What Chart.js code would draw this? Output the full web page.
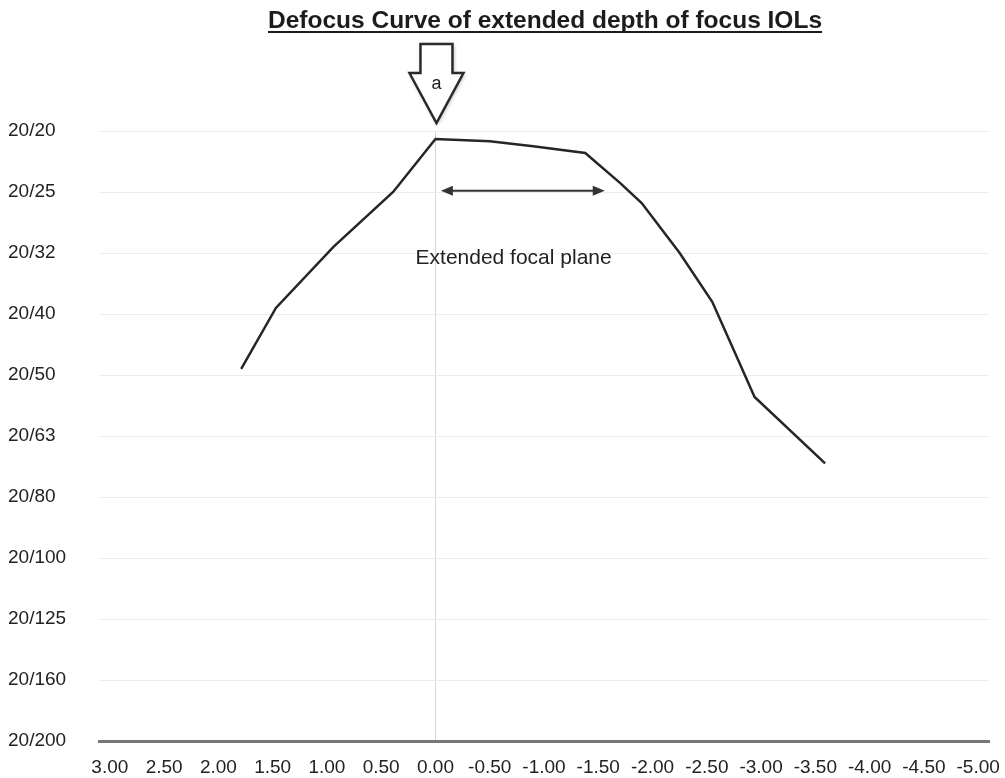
<!DOCTYPE html>
<html>
<head>
<meta charset="utf-8">
<script src="https://cdn.jsdelivr.net/npm/chart.js@4.4.1/dist/chart.umd.min.js"></script>
<style>
  html, body { margin: 0; padding: 0; background: #fff; }
  #wrap { width: 1005px; height: 778px; position: relative; }
</style>
</head>
<body>
<div id="wrap"><canvas id="defocusChart"></canvas></div>
<script>
// defocus (D) and visual acuity (logMAR)
const defocus = [1.79, 1.47, 0.94, 0.39, 0.00, -0.50, -0.90, -1.38, -1.70, -1.90, -2.25, -2.55, -2.75, -2.94, -3.59];
const logMAR = [0.39, 0.29, 0.19, 0.10, 0.013, 0.017, 0.025, 0.036, 0.085, 0.118, 0.20, 0.28, 0.36, 0.436, 0.545];

const acuityLabels = ['20/20', '20/25', '20/32', '20/40', '20/50', '20/63', '20/80', '20/100', '20/125', '20/160', '20/200'];
const defocusTicks = [3, 2.5, 2, 1.5, 1, 0.5, 0, -0.5, -1, -1.5, -2, -2.5, -3, -3.5, -4, -4.5, -5];

const titleText = 'Defocus Curve of extended depth of focus IOLs';
const FONT = '"Liberation Sans", Arial, Helvetica, sans-serif';

// title, "a" arrow and the extended focal plane marker
const annotations = {
    id: 'annotations',
    afterDraw(chart) {
        const { ctx, scales: { x, y } } = chart;
        ctx.save();

        // underlined title
        ctx.font = 'bold 24.5px ' + FONT;
        ctx.fillStyle = '#1c1c1c';
        ctx.textAlign = 'center';
        ctx.textBaseline = 'alphabetic';
        ctx.fillText(titleText, 545, 28);
        const tw = ctx.measureText(titleText).width;
        ctx.fillRect(545 - tw / 2, 31, tw, 2);

        // hollow down arrow pointing at 0.00 D
        const ax = x.getPixelForValue(0) + 1;
        ctx.beginPath();
        ctx.moveTo(ax - 16, 44);
        ctx.lineTo(ax + 16, 44);
        ctx.lineTo(ax + 16, 73);
        ctx.lineTo(ax + 27, 73);
        ctx.lineTo(ax, 123);
        ctx.lineTo(ax - 27, 73);
        ctx.lineTo(ax - 16, 73);
        ctx.closePath();
        ctx.shadowColor = 'rgba(0,0,0,0.35)';
        ctx.shadowBlur = 4;
        ctx.shadowOffsetX = 1;
        ctx.shadowOffsetY = 1;
        ctx.fillStyle = '#fff';
        ctx.fill();
        ctx.shadowColor = 'transparent';
        ctx.lineWidth = 2.5;
        ctx.lineJoin = 'miter';
        ctx.strokeStyle = '#2a2a2a';
        ctx.stroke();
        ctx.font = '18px ' + FONT;
        ctx.fillStyle = '#222';
        ctx.textBaseline = 'middle';
        ctx.fillText('a', ax, 84);

        // double-headed arrow
        const x1 = x.getPixelForValue(-0.05);
        const x2 = x.getPixelForValue(-1.56);
        const yy = y.getPixelForValue(0.098);
        ctx.strokeStyle = '#333';
        ctx.fillStyle = '#333';
        ctx.lineWidth = 2;
        ctx.beginPath();
        ctx.moveTo(x1 + 8, yy);
        ctx.lineTo(x2 - 8, yy);
        ctx.stroke();
        ctx.beginPath();
        ctx.moveTo(x1, yy);
        ctx.lineTo(x1 + 12, yy - 5);
        ctx.lineTo(x1 + 12, yy + 5);
        ctx.closePath();
        ctx.fill();
        ctx.beginPath();
        ctx.moveTo(x2, yy);
        ctx.lineTo(x2 - 12, yy - 5);
        ctx.lineTo(x2 - 12, yy + 5);
        ctx.closePath();
        ctx.fill();

        ctx.font = '21px ' + FONT;
        ctx.fillStyle = '#222';
        ctx.textAlign = 'center';
        ctx.textBaseline = 'middle';
        ctx.fillText('Extended focal plane', x.getPixelForValue(-0.72), y.getPixelForValue(0.208));

        ctx.restore();
    }
};

const ctx = document.getElementById('defocusChart').getContext('2d');

window.defocusChart = new Chart(ctx, {
    type: 'line',
    data: {
        datasets: [{
            data: defocus.map((d, i) => ({ x: d, y: logMAR[i] })),
            borderColor: '#262626',
            borderWidth: 2.5,
            pointRadius: 0,
            tension: 0,
            fill: false
        }]
    },
    options: {
        responsive: true,
        maintainAspectRatio: false,
        animation: false,
        layout: {
            padding: { left: 8, right: 16, top: 131, bottom: 0 }
        },
        plugins: {
            legend: { display: false },
            title: { display: false },
            tooltip: { enabled: false }
        },
        scales: {
            x: {
                type: 'linear',
                reverse: true,
                min: -5.1,
                max: 3.1,
                afterBuildTicks: scale => {
                    scale.ticks = defocusTicks.map(v => ({ value: v }));
                },
                afterFit: scale => {
                    scale.height = 37;
                    scale.paddingLeft = 0;
                    scale.paddingRight = 0;
                },
                ticks: {
                    autoSkip: false,
                    maxRotation: 0,
                    padding: 15,
                    color: '#222',
                    font: { family: FONT, size: 19 },
                    callback: value => value.toFixed(2)
                },
                grid: {
                    drawTicks: false,
                    color: c => (c.tick && c.tick.value === 0) ? '#d6d6d6' : 'rgba(0,0,0,0)'
                },
                border: { display: true, color: '#777', width: 3 }
            },
            y: {
                type: 'linear',
                reverse: true,
                min: 0,
                max: 1,
                afterBuildTicks: scale => {
                    scale.ticks = acuityLabels.map((_, i) => ({ value: i / 10 }));
                },
                afterFit: scale => {
                    scale.width = 91;
                },
                ticks: {
                    crossAlign: 'far',
                    color: '#222',
                    font: { family: FONT, size: 19 },
                    callback: value => acuityLabels[Math.round(value * 10)]
                },
                grid: {
                    drawTicks: false,
                    color: '#ececec'
                },
                border: { display: false }
            }
        }
    },
    plugins: [annotations]
});
</script>
</body>
</html>
